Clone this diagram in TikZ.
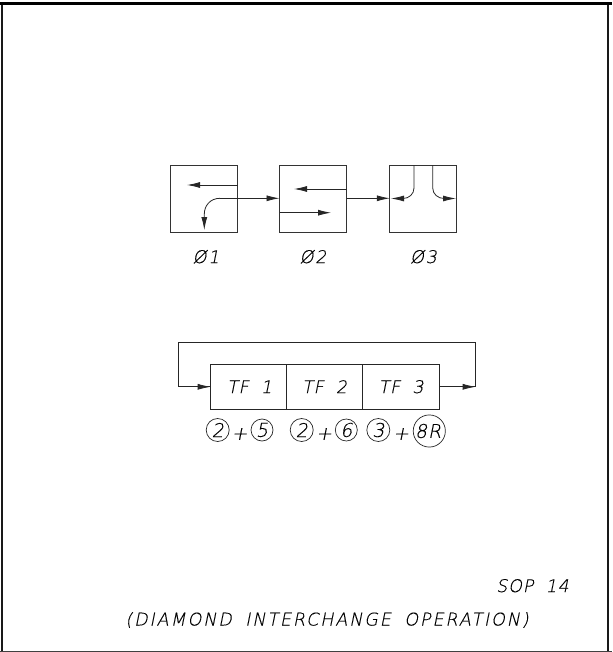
\documentclass[tikz,border=0pt]{standalone}
\usepackage{fontspec}
\setmainfont{DejaVu Sans}
\usetikzlibrary{arrows.meta}
\newfontfamily\dwg[LetterSpace=5,WordSpace=1.9,FakeBold=0.25,FakeSlant=0.2]{DejaVu Sans ExtraLight}
\newfontfamily\dwgcap[LetterSpace=11,WordSpace=1.8,FakeBold=0.25,FakeSlant=0.2]{DejaVu Sans ExtraLight}
\newfontfamily\dwgphi[LetterSpace=10,FakeBold=0.25,FakeSlant=0.2]{DejaVu Sans ExtraLight}
\tikzset{
  x=1pt,y=-1pt,
  ln/.style={line width=0.8pt,black!85},
  box/.style={draw,line width=0.9pt,black!80,minimum width=67pt,minimum height=67pt,inner sep=0pt,outer sep=0pt,anchor=north west},
  tfbox/.style={draw,line width=0.9pt,black!85,minimum height=45pt,inner sep=0pt,outer sep=0pt,anchor=north west},
  arr/.style={ln,-{Latex[length=13pt,width=6pt]}},
  lab/.style={font=\dwg\fontsize{17.5}{20}\selectfont,inner sep=0pt},
  philab/.style={font=\dwgphi\fontsize{17.5}{20}\selectfont,inner sep=0pt},
  ring/.style={draw,circle,line width=0.7pt,black!85,inner sep=0pt,outer sep=0pt,text=black,font=\dwg\fontsize{19}{22}\selectfont},
}
\begin{document}
\begin{tikzpicture}
\useasboundingbox (0,0) rectangle (612,652);
\draw[line width=2pt,black!90] (2,652) -- (2,3);
\draw[line width=2pt,black!90] (608,652) -- (608,3);
\draw[line width=1.5pt,black!75] (0,651.5) -- (612,651.5);
\draw[line width=3pt,black] (0,3.5) -- (612,3.5);
% phase boxes
\node[box] (p1) at (170.7,165.2) {};
\node[box] (p2) at (279.5,165.2) {};
\node[box] (p3) at (389.8,165.2) {};
\coordinate (p1a) at (237.7,185);
\coordinate (p1b) at (187,185);
\draw[arr] (p1a) -- (p1b);
\coordinate (p1c) at (204.3,230);
\coordinate (p2l) at (279.5,198.3);
\coordinate (p2r) at (346.5,198.3);
\coordinate (p3l) at (389.8,198.3);
\draw[arr] (220,198.3) -- (p2l);
\draw[arr] (220,198.3) .. controls (210,198.3) and (204.3,206) .. (204.3,214) -- (p1c);
\coordinate (p2a) at (346.5,189);
\coordinate (p2b) at (294,189);
\draw[arr] (p2a) -- (p2b);
\coordinate (p2c) at (279.5,212.7);
\coordinate (p2d) at (331,212.7);
\draw[arr] (p2c) -- (p2d);
\draw[arr] (p2r) -- (p3l);
\coordinate (p3a) at (414,165.2);
\coordinate (p3b) at (391,198.5);
\coordinate (p3c) at (432.7,165.2);
\coordinate (p3d) at (456,198.5);
\draw[arr] (p3a) -- (414,188) .. controls (414,194) and (409,198.5) .. (403,198.5) -- (p3b);
\draw[arr] (p3c) -- (432.7,188) .. controls (432.7,194) and (438,198.5) .. (444,198.5) -- (p3d);
\node[philab] (l1) at (206,256.7) {Ø1};
\node[philab] (l2) at (313,256.7) {Ø2};
\node[philab] (l3) at (423.5,256.7) {Ø3};
% TF row
\node[tfbox,minimum width=76pt] (t1) at (210.7,364.3) {};
\node[tfbox,minimum width=75.3pt] (t2) at (286.7,364.3) {};
\node[tfbox,minimum width=77.3pt] (t3) at (362,364.3) {};
\node[lab] (tl1) at (249.5,386.7) {TF 1};
\node[lab] (tl2) at (324.5,386.7) {TF 2};
\node[lab] (tl3) at (401,386.7) {TF 3};
\coordinate (r1) at (475.7,342.3);
\coordinate (r2) at (178.3,342.3);
\draw[ln] (t3.east) -| (r1) -- (r2) |- (t1.west);
\draw[arr] (r2 |- t1.west) -- (t1.west);
\draw[arr] (t3.east) -- (r1 |- t3.east);
% rings
\node[ring,minimum size=23pt] (c1) at (217.7,430) {2};
\node[lab,font=\dwg\fontsize{19}{22}\selectfont] (pl1) at (239.5,434) {+};
\node[ring,minimum size=22pt] (c2) at (262,430) {5};
\node[ring,minimum size=23pt] (c3) at (301.7,430) {2};
\node[lab,font=\dwg\fontsize{19}{22}\selectfont] (pl2) at (324,434) {+};
\node[ring,minimum size=22pt] (c4) at (346.3,430) {6};
\node[ring,minimum size=23pt] (c5) at (378.3,430) {3};
\node[lab,font=\dwg\fontsize{19}{22}\selectfont] (pl3) at (401,434) {+};
\node[ring,minimum size=30pt] (c6) at (429.3,431) {8R\kern2.5pt};
% captions
\node[lab] (sop) at (532.5,585.7) {SOP 14};
\node[lab,font=\dwgcap\fontsize{17.5}{20}\selectfont] (cap) at (327,620) {(DIAMOND INTERCHANGE OPERATION)};
\end{tikzpicture}
\end{document}
